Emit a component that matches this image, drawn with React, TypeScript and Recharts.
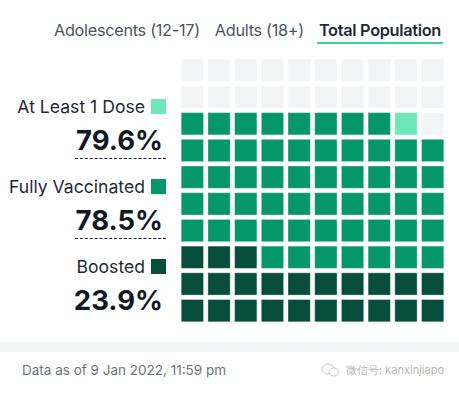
import React from 'react';
import { ScatterChart, Scatter, XAxis, YAxis } from 'recharts';

const tabs = ['Adolescents (12-17)', 'Adults (18+)', 'Total Population'];
const activeTab = 'Total Population';

const categories = ['At Least 1 Dose', 'Fully Vaccinated', 'Boosted'];
const percentages = [79.6, 78.5, 23.9];
const footnote = 'Data as of 9 Jan 2022, 11:59 pm';

const COLORS: Record<string, string> = {
  'At Least 1 Dose': '#6ee7b7',
  'Fully Vaccinated': '#059669',
  Boosted: '#064e3b',
  Empty: '#f3f4f6',
};

const FONT = 'Inter, "Noto Sans", sans-serif';
const CELL = 22.3;

// one cell per percent, filled from the bottom-left, row by row
const buildCells = () => {
  const counts = percentages.map((p) => Math.floor(p));
  const cells: Record<string, { x: number; y: number }[]> = {
    'At Least 1 Dose': [],
    'Fully Vaccinated': [],
    Boosted: [],
    Empty: [],
  };
  for (let k = 0; k < 100; k++) {
    const point = { x: (k % 10) + 0.5, y: Math.floor(k / 10) + 0.5 };
    if (k < counts[2]) cells['Boosted'].push(point);
    else if (k < counts[1]) cells['Fully Vaccinated'].push(point);
    else if (k < counts[0]) cells['At Least 1 Dose'].push(point);
    else cells['Empty'].push(point);
  }
  return cells;
};

const cells = buildCells();

const square = (fill: string) => (props: any) => {
  const { cx, cy } = props;
  if (cx == null || cy == null) return <g />;
  return (
    <rect
      x={cx - CELL / 2}
      y={cy - CELL / 2}
      width={CELL}
      height={CELL}
      fill={fill}
      stroke="#ffffff"
      strokeOpacity={0.35}
      strokeWidth={1}
    />
  );
};

export default function App() {
  return (
    <div style={{ position: 'relative', width: 459, height: 401, background: '#fff', fontFamily: FONT, overflow: 'hidden' }}>
      <style>{`body{margin:0}`}</style>

      {/* tabs */}
      <div style={{ position: 'absolute', right: 16, top: 20, display: 'flex', gap: 11, fontSize: 16.3, lineHeight: '21px' }}>
        {tabs.map((t) => (
          <div
            key={t}
            style={{
              color: t === activeTab ? '#1f2937' : '#4b5563',
              fontWeight: t === activeTab ? 600 : 400,
              padding: '0 2px 1px',
              borderBottom: t === activeTab ? '2.5px solid #34d399' : '2.5px solid transparent',
              letterSpacing: -0.3,
              whiteSpace: 'nowrap',
            }}
          >
            {t}
          </div>
        ))}
      </div>

      {/* legend / values */}
      {categories.map((c, i) => (
        <div key={c} style={{ position: 'absolute', left: 0, width: 166, top: 95 + i * 80 }}>
          <div style={{ display: 'flex', justifyContent: 'flex-end', alignItems: 'center', height: 22 }}>
            <span style={{ fontSize: 17.6, color: '#1f2937', whiteSpace: 'nowrap' }}>{c}</span>
            <span style={{ display: 'inline-block', width: 15, height: 15, marginLeft: 6, background: COLORS[c] }} />
          </div>
          <div style={{ display: 'flex', justifyContent: 'flex-end', marginTop: 6 }}>
            <span
              style={{
                fontSize: 27.5,
                fontWeight: 700,
                color: '#111827',
                lineHeight: '35px',
                paddingRight: 3,
                paddingLeft: 1,
                borderBottom: i < 2 ? '1px dashed #111827' : '1px solid transparent',
              }}
            >
              {percentages[i].toFixed(1)}%
            </span>
          </div>
        </div>
      ))}

      {/* waffle grid */}
      <div style={{ position: 'absolute', left: 178.8, top: 56.8 }}>
        <ScatterChart width={267} height={267} margin={{ top: 0, right: 0, bottom: 0, left: 0 }}>
          <XAxis type="number" dataKey="x" domain={[0, 10]} hide />
          <YAxis type="number" dataKey="y" domain={[0, 10]} hide />
          {Object.keys(cells).map((key) => (
            <Scatter
              key={key}
              name={key}
              data={cells[key]}
              shape={square(COLORS[key])}
              isAnimationActive={false}
            />
          ))}
        </ScatterChart>
      </div>

      {/* footer */}
      <div style={{ position: 'absolute', left: 0, top: 342, width: 459, height: 10, background: '#f3f4f6' }} />
      <div style={{ position: 'absolute', left: 22, top: 362, fontSize: 13.5, color: '#6b7280', whiteSpace: 'nowrap' }}>{footnote}</div>
      <div style={{ position: 'absolute', left: 321, top: 362, display: 'flex', alignItems: 'center', color: '#b8b8b8', fontSize: 11, whiteSpace: 'nowrap' }}>
        <svg width={20} height={16} style={{ marginRight: 5 }}>
          <ellipse cx={7} cy={7} rx={6} ry={5} fill="none" stroke="#c8c8c8" strokeWidth={1} />
          <ellipse cx={13} cy={10} rx={5} ry={4} fill="#fff" stroke="#c8c8c8" strokeWidth={1} />
        </svg>
        <span>微信号: kanxinjiapo</span>
      </div>
    </div>
  );
}
